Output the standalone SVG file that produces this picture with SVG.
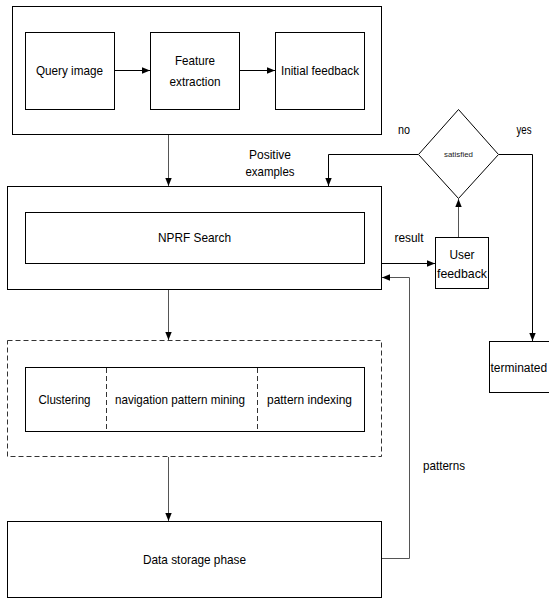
<svg xmlns="http://www.w3.org/2000/svg" width="549" height="599" viewBox="0 0 549 599">
<style>
  .box { fill: #fff; stroke: #000; stroke-width: 1; }
  .dash { fill: none; stroke: #333; stroke-width: 1; stroke-dasharray: 5 3; }
  .t { font-family: "Liberation Sans", Arial, sans-serif; font-size: 13px; fill: #000; text-anchor: middle; }
  .small { font-size: 7.5px; fill: #222; }
  .c { fill: none; stroke: #000; stroke-width: 1; }
  .g { stroke: #555; }
</style>
<defs>
  <marker id="ah" viewBox="0 0 10 10" refX="10" refY="5" markerWidth="8" markerHeight="8" markerUnits="userSpaceOnUse" orient="auto">
    <path d="M0,1 L10,5 L0,9 Z" fill="#000"/>
  </marker>
</defs>
<rect width="549" height="599" fill="#fff"/>

<g id="input-phase">
  <rect class="box" x="12.5" y="6.5" width="369" height="128"/>
</g>
<g id="query-image">
  <rect class="box" x="25.5" y="32.5" width="89" height="77"/>
  <text class="t" x="69.5" y="75" textLength="67" lengthAdjust="spacingAndGlyphs">Query image</text>
</g>
<g id="feature-extraction">
  <rect class="box" x="150.5" y="32.5" width="89" height="77"/>
  <text class="t" x="195" y="65" textLength="40" lengthAdjust="spacingAndGlyphs">Feature</text>
  <text class="t" x="195" y="86" textLength="51" lengthAdjust="spacingAndGlyphs">extraction</text>
</g>
<g id="initial-feedback">
  <rect class="box" x="275.5" y="32.5" width="89" height="77"/>
  <text class="t" x="320" y="75" textLength="78" lengthAdjust="spacingAndGlyphs">Initial feedback</text>
</g>

<g id="search-phase">
  <rect class="box" x="7.5" y="186.5" width="374" height="103"/>
</g>
<g id="nprf-search">
  <rect class="box" x="25.5" y="212.5" width="339" height="51"/>
  <text class="t" x="194.5" y="242" textLength="73" lengthAdjust="spacingAndGlyphs">NPRF Search</text>
</g>

<g id="mining-phase">
  <rect class="dash" x="7.5" y="340.5" width="374" height="116"/>
  <rect class="box" x="25.5" y="367.5" width="339" height="64"/>
  <line class="dash" x1="106.5" y1="368" x2="106.5" y2="431"/>
  <line class="dash" x1="257.5" y1="368" x2="257.5" y2="431"/>
</g>
<g id="clustering">
  <text class="t" x="64.5" y="404" textLength="52" lengthAdjust="spacingAndGlyphs">Clustering</text>
</g>
<g id="navigation-pattern-mining">
  <text class="t" x="180" y="404" textLength="130" lengthAdjust="spacingAndGlyphs">navigation pattern mining</text>
</g>
<g id="pattern-indexing">
  <text class="t" x="309.5" y="404" textLength="85" lengthAdjust="spacingAndGlyphs">pattern indexing</text>
</g>

<g id="data-storage">
  <rect class="box" x="7.5" y="521.5" width="374" height="76"/>
  <text class="t" x="194.5" y="564" textLength="103" lengthAdjust="spacingAndGlyphs">Data storage phase</text>
</g>

<g id="user-feedback">
  <rect class="box" x="435.5" y="237.5" width="53" height="51"/>
  <text class="t" x="462" y="259" textLength="25" lengthAdjust="spacingAndGlyphs">User</text>
  <text class="t" x="462" y="278" textLength="50" lengthAdjust="spacingAndGlyphs">feedback</text>
</g>

<g id="satisfied">
  <polygon class="box" points="458.5,109.5 498.5,154.5 458.5,198.5 418.5,154.5"/>
  <text class="t small" x="458.5" y="157" textLength="29" lengthAdjust="spacingAndGlyphs">satisfied</text>
</g>

<g id="terminated">
  <rect class="box" x="489.5" y="341.5" width="70" height="51"/>
  <text class="t" x="490.5" y="371.5" style="text-anchor:start;font-size:12px">terminated</text>
</g>

<g id="connectors">
  <line class="c" x1="114" y1="70.5" x2="150" y2="70.5" marker-end="url(#ah)"/>
  <line class="c" x1="239" y1="70.5" x2="275" y2="70.5" marker-end="url(#ah)"/>
  <line class="c g" x1="168.5" y1="135" x2="168.5" y2="186" marker-end="url(#ah)"/>
  <polyline class="c" points="418,154.5 328.5,154.5 328.5,186" marker-end="url(#ah)"/>
  <line class="c" x1="382" y1="263.5" x2="435" y2="263.5" marker-end="url(#ah)"/>
  <line class="c g" x1="458.5" y1="237" x2="458.5" y2="199" marker-end="url(#ah)"/>
  <polyline class="c" points="499,154.5 532.5,154.5 532.5,341" marker-end="url(#ah)"/>
  <line class="c g" x1="168.5" y1="290" x2="168.5" y2="340" marker-end="url(#ah)"/>
  <line class="c g" x1="168.5" y1="457" x2="168.5" y2="521" marker-end="url(#ah)"/>
  <polyline class="c g" points="382,558.5 409.5,558.5 409.5,277.5 382,277.5" marker-end="url(#ah)"/>
</g>

<g id="labels">
  <text class="t" x="270" y="159" textLength="42" lengthAdjust="spacingAndGlyphs">Positive</text>
  <text class="t" x="270" y="176" textLength="49" lengthAdjust="spacingAndGlyphs">examples</text>
  <text class="t" x="404" y="134" textLength="12" lengthAdjust="spacingAndGlyphs">no</text>
  <text class="t" x="524" y="134" textLength="15" lengthAdjust="spacingAndGlyphs">yes</text>
  <text class="t" x="409" y="242" textLength="29" lengthAdjust="spacingAndGlyphs">result</text>
  <text class="t" x="444" y="470" textLength="42" lengthAdjust="spacingAndGlyphs">patterns</text>
</g>
</svg>
